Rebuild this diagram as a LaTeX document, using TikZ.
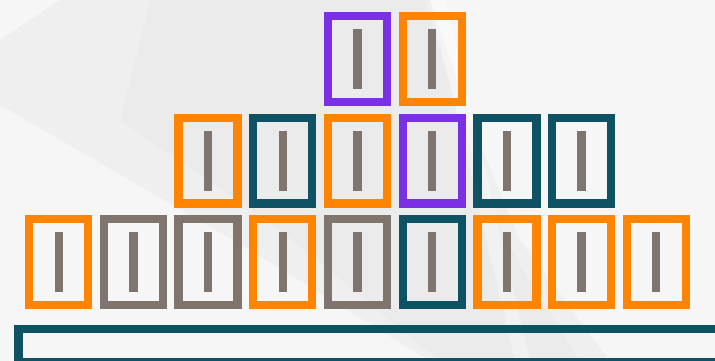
\documentclass[tikz,border=0pt]{standalone}
\definecolor{cOrange}{RGB}{255,133,0}
\definecolor{cPurple}{RGB}{122,49,230}
\definecolor{cTeal}{RGB}{14,82,99}
\definecolor{cGrey}{RGB}{128,117,110}
\definecolor{bgLight}{RGB}{246,246,246}
\definecolor{bgDark}{RGB}{231,231,231}
\tikzset{
  slot/.style={draw=#1, line width=8.3pt, minimum width=59pt, minimum height=85.7pt, inner sep=0pt, outer sep=0pt},
  slotbar/.style={fill=cGrey, minimum width=8.3pt, minimum height=60pt, inner sep=0pt, outer sep=0pt},
  basebar/.style={draw=cTeal, line width=8.3pt}
}
\begin{document}
\begin{tikzpicture}[x=1pt,y=-1pt]
\useasboundingbox (0,0) rectangle (715,361);
\clip (0,0) rectangle (715,361);
% background
\fill[bgLight] (0,0) rectangle (715,361);
\fill[bgDark, opacity=0.45] (60,0) -- (430,0) -- (470,120) -- (520,240) -- (610,361) -- (430,361) -- (250,250) -- (0,105) -- (0,40) -- cycle;
\fill[bgDark, opacity=0.45] (150,0) -- (425,0) -- (460,120) -- (505,240) -- (580,361) -- (440,361) -- (280,230) -- (120,120) -- cycle;
\fill[white, opacity=0.35] (430,0) -- (445,0) -- (530,361) -- (515,361) -- cycle;
% boxes
\foreach \col/\row/\clr [count=\k] in {
  4/1/cPurple, 5/1/cOrange,
  2/2/cOrange, 3/2/cTeal, 4/2/cOrange, 5/2/cPurple, 6/2/cTeal, 7/2/cTeal,
  0/3/cOrange, 1/3/cGrey, 2/3/cGrey, 3/3/cOrange, 4/3/cGrey, 5/3/cTeal, 6/3/cOrange, 7/3/cOrange, 8/3/cOrange}{
  \pgfmathsetmacro{\cx}{58.65+74.7*\col}
  \pgfmathsetmacro{\cy}{59.2+101.4*(\row-1)}
  \node[slot=\clr] (box\k) at (\cx,\cy) {};
  \node[slotbar] (bar\k) at (box\k.center) {};
}
% base bar
\coordinate (baseTL) at (18.45,329.15);
\coordinate (baseBR) at (760,362.2);
\draw[basebar] (baseTL) rectangle (baseBR);
\end{tikzpicture}
\end{document}
